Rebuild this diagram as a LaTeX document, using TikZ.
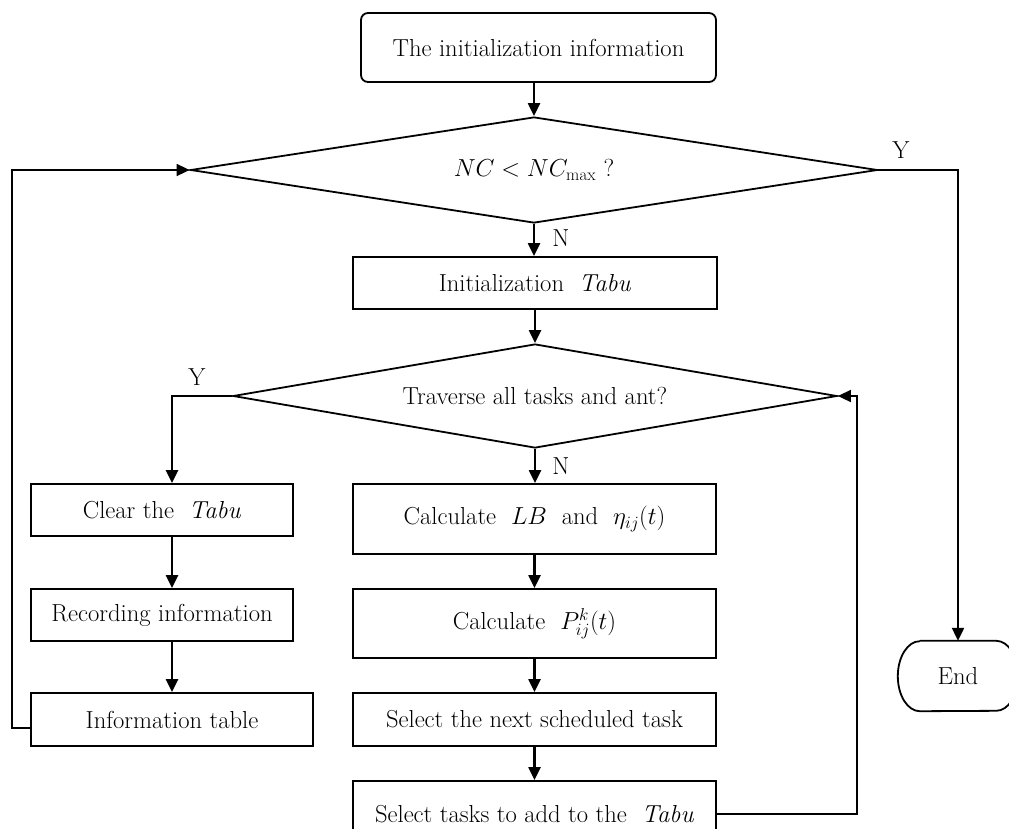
\RequirePackage{fix-cm}
\documentclass[tikz,border=0pt]{standalone}
\usetikzlibrary{shapes.geometric,arrows.meta}
\begin{document}
\begin{tikzpicture}[x=1pt,y=-1pt,
  every node/.style={font=\fontsize{24.6}{29}\selectfont},
  box/.style={draw,line width=1.8pt,rectangle,inner sep=0pt,align=center},
  dec/.style={draw,line width=1.8pt,diamond,aspect=6,inner sep=0pt},
  arr/.style={line width=2.2pt,-{Triangle[length=13pt,width=12pt]}},
  thin arr/.style={line width=1.7pt,-{Triangle[length=13pt,width=12pt]}}]
\useasboundingbox (0,0) rectangle (1009,828);

\node[box,rounded corners=7pt,minimum width=355pt,minimum height=69pt] (init) at (538.5,47.5) {The initialization information};
\node[dec,minimum width=687pt,minimum height=106pt] (d1) at (534,170) {$NC < NC_{\max}$ ?};
\node[box,minimum width=364pt,minimum height=52pt] (tabu) at (535,283) {Initialization\ \ \textit{Tabu}};
\node[dec,minimum width=604pt,minimum height=104pt] (d2) at (535,396) {Traverse all tasks and ant?};
\node[box,minimum width=262pt,minimum height=52pt] (clear) at (162,510) {Clear the\ \ \textit{Tabu}};
\node[box,minimum width=262pt,minimum height=52pt] (record) at (162,615) {Recording information};
\node[box,minimum width=282pt,minimum height=53pt] (info) at (172,719.5) {Information table};
\node[box,minimum width=363pt,minimum height=70pt] (calc1) at (534.5,519) {Calculate\ \ $LB$\ \ and\ \ $\eta_{ij}(t)$};
\node[box,minimum width=363pt,minimum height=69pt] (calc2) at (534.5,623.5) {Calculate\ \ $P_{ij}^{k}(t)$};
\node[box,minimum width=363pt,minimum height=53pt] (sel) at (534.5,719.5) {Select the next scheduled task};
\node[box,minimum width=363pt,minimum height=66pt] (seltask) at (534.5,814) {Select tasks to add to the\ \ \textit{Tabu}};
\node[minimum width=120pt,minimum height=70pt,inner sep=0pt] (end) at (958,676) {End};
\draw[line width=1.8pt] ([xshift=22pt]end.north west) -- ([xshift=-22pt]end.north east)
  arc[start angle=90,end angle=-90,x radius=22pt,y radius=35pt]
  -- ([xshift=22pt]end.south west)
  arc[start angle=270,end angle=90,x radius=22pt,y radius=35pt];

\node (y1) at (901,150) {Y};
\node (n1) at (561,238) {N};
\node (y2) at (197,377) {Y};
\node (n2) at (561,466) {N};

\coordinate (rloop) at (857,0);
\coordinate (lloop) at (12,0);

\draw[arr] (d1.north |- init.south) -- (d1.north);
\draw[arr] (d1.south) -- (d1.south |- tabu.north);
\draw[arr] (d1.east) -- (d1.east -| end.north) -- (end.north);
\draw[arr] (d2.north |- tabu.south) -- (d2.north);
\draw[arr] (d2.west) -- (d2.west -| info.north) -- (clear.north -| info.north);
\draw[arr] (d2.south) -- (d2.south |- calc1.north);
\draw[arr] (clear.south -| info.north) -- (record.north -| info.north);
\draw[arr] (record.south -| info.north) -- (info.north);
\draw[arr] (calc1.south) -- (calc2.north);
\draw[arr] (calc2.south) -- (sel.north);
\draw[arr] (sel.south) -- (seltask.north);
\draw[thin arr] (seltask.east) -- (seltask.east -| rloop) |- (d2.east);
\draw[thin arr] ([yshift=-8.5pt]info.west) -- ([yshift=-8.5pt]info.west -| lloop) |- (d1.west);
\end{tikzpicture}
\end{document}
